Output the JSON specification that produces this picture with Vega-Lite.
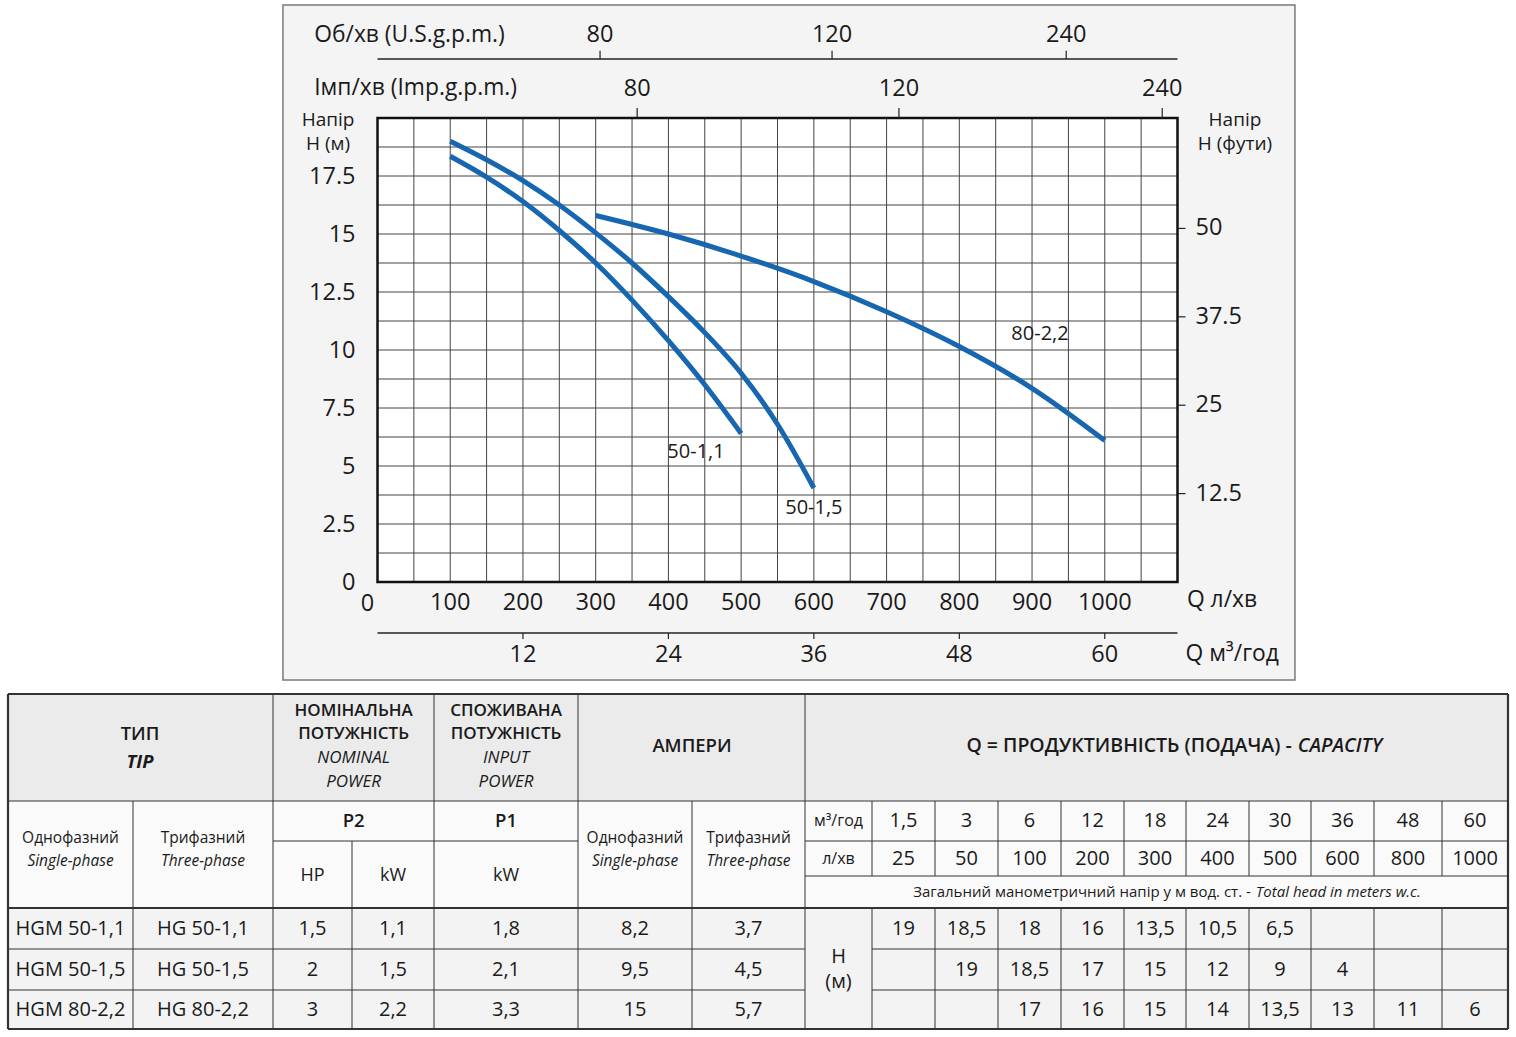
{
  "$schema": "https://vega.github.io/schema/vega-lite/v6.json",
  "width": 1516,
  "height": 1037,
  "padding": 0,
  "autosize": {"type": "none"},
  "background": "#ffffff",
  "config": {"view": {"stroke": null}, "text": {"font": "Open Sans", "color": "#1a1a1a"}},
  "datasets": {
    "curves": [
      {"model": "50-1,1", "q": 100, "h": 18.35}, {"model": "50-1,1", "q": 150, "h": 17.45}, {"model": "50-1,1", "q": 200, "h": 16.4}, {"model": "50-1,1", "q": 250, "h": 15.15}, {"model": "50-1,1", "q": 300, "h": 13.75}, {"model": "50-1,1", "q": 350, "h": 12.15}, {"model": "50-1,1", "q": 400, "h": 10.4}, {"model": "50-1,1", "q": 450, "h": 8.5}, {"model": "50-1,1", "q": 500, "h": 6.4},
      {"model": "50-1,5", "q": 100, "h": 19.0}, {"model": "50-1,5", "q": 150, "h": 18.2}, {"model": "50-1,5", "q": 200, "h": 17.3}, {"model": "50-1,5", "q": 250, "h": 16.25}, {"model": "50-1,5", "q": 300, "h": 15.05}, {"model": "50-1,5", "q": 350, "h": 13.75}, {"model": "50-1,5", "q": 400, "h": 12.3}, {"model": "50-1,5", "q": 450, "h": 10.75}, {"model": "50-1,5", "q": 500, "h": 9.0}, {"model": "50-1,5", "q": 550, "h": 6.8}, {"model": "50-1,5", "q": 600, "h": 4.05},
      {"model": "80-2,2", "q": 300, "h": 15.8}, {"model": "80-2,2", "q": 400, "h": 15.0}, {"model": "80-2,2", "q": 500, "h": 14.05}, {"model": "80-2,2", "q": 600, "h": 12.95}, {"model": "80-2,2", "q": 700, "h": 11.65}, {"model": "80-2,2", "q": 800, "h": 10.15}, {"model": "80-2,2", "q": 900, "h": 8.35}, {"model": "80-2,2", "q": 1000, "h": 6.1}
    ],
    "curveLabels": [
      {"q": 438, "h": 5.6, "label": "50-1,1"},
      {"q": 600, "h": 3.19, "label": "50-1,5"},
      {"q": 911, "h": 10.69, "label": "80-2,2"}
    ],
    "gridQ": [{"q": 50}, {"q": 100}, {"q": 150}, {"q": 200}, {"q": 250}, {"q": 300}, {"q": 350}, {"q": 400}, {"q": 450}, {"q": 500}, {"q": 550}, {"q": 600}, {"q": 650}, {"q": 700}, {"q": 750}, {"q": 800}, {"q": 850}, {"q": 900}, {"q": 950}, {"q": 1000}, {"q": 1050}],
    "gridH": [{"h": 1.25}, {"h": 2.5}, {"h": 3.75}, {"h": 5}, {"h": 6.25}, {"h": 7.5}, {"h": 8.75}, {"h": 10}, {"h": 11.25}, {"h": 12.5}, {"h": 13.75}, {"h": 15}, {"h": 16.25}, {"h": 17.5}, {"h": 18.75}],
    "yLabels": [{"h": 0, "label": "0"}, {"h": 2.5, "label": "2.5"}, {"h": 5, "label": "5"}, {"h": 7.5, "label": "7.5"}, {"h": 10, "label": "10"}, {"h": 12.5, "label": "12.5"}, {"h": 15, "label": "15"}, {"h": 17.5, "label": "17.5"}],
    "xLabels": [{"q": 100, "label": "100"}, {"q": 200, "label": "200"}, {"q": 300, "label": "300"}, {"q": 400, "label": "400"}, {"q": 500, "label": "500"}, {"q": 600, "label": "600"}, {"q": 700, "label": "700"}, {"q": 800, "label": "800"}, {"q": 900, "label": "900"}, {"q": 1000, "label": "1000"}],
    "feet": [{"h": 3.81, "label": "12.5"}, {"h": 7.62, "label": "25"}, {"h": 11.43, "label": "37.5"}, {"h": 15.24, "label": "50"}],
    "imp": [{"q": 357, "label": "80"}, {"q": 717, "label": "120"}, {"q": 1079, "label": "240"}],
    "usg": [{"q": 306, "label": "80"}, {"q": 625, "label": "120"}, {"q": 947, "label": "240"}],
    "m3": [{"q": 200, "label": "12"}, {"q": 400, "label": "24"}, {"q": 600, "label": "36"}, {"q": 800, "label": "48"}, {"q": 1000, "label": "60"}],
    "titlesL": [
      {"q": -87, "h": 23.58, "label": "Об/хв (U.S.g.p.m.)"},
      {"q": -87, "h": 21.3, "label": "Імп/хв (Imp.g.p.m.)"},
      {"q": 1113, "h": -0.78, "label": "Q л/хв"},
      {"q": 1111, "h": -3.1, "label": "Q м³/год"}
    ],
    "titlesC": [
      {"q": -68, "h": 19.4, "label": ["Напір", "Н (м)"]},
      {"q": 1179, "h": 19.4, "label": ["Напір", "Н (фути)"]}
    ],
    "tableBg": [
      {"c": 0, "c2": 18, "r": 0, "r2": 1, "zone": "head"},
      {"c": 0, "c2": 18, "r": 1, "r2": 4, "zone": "sub"},
      {"c": 0, "c2": 18, "r": 4, "r2": 7, "zone": "body"}
    ],
    "hlines": [
      {"r": 0, "c": 0, "c2": 18, "kind": "outer"},
      {"r": 1, "c": 0, "c2": 18, "kind": "inner"},
      {"r": 2, "c": 2, "c2": 5, "kind": "inner"},
      {"r": 2, "c": 7, "c2": 18, "kind": "inner"},
      {"r": 3, "c": 7, "c2": 18, "kind": "inner"},
      {"r": 4, "c": 0, "c2": 18, "kind": "outer"},
      {"r": 5, "c": 0, "c2": 7, "kind": "inner"},
      {"r": 5, "c": 8, "c2": 18, "kind": "inner"},
      {"r": 6, "c": 0, "c2": 7, "kind": "inner"},
      {"r": 6, "c": 8, "c2": 18, "kind": "inner"},
      {"r": 7, "c": 0, "c2": 18, "kind": "outer"}
    ],
    "vlines": [
      {"c": 0, "r": 0, "r2": 7, "kind": "outer"},
      {"c": 1, "r": 1, "r2": 7, "kind": "inner"},
      {"c": 2, "r": 0, "r2": 7, "kind": "inner"},
      {"c": 3, "r": 2, "r2": 7, "kind": "inner"},
      {"c": 4, "r": 0, "r2": 7, "kind": "inner"},
      {"c": 5, "r": 0, "r2": 7, "kind": "inner"},
      {"c": 6, "r": 1, "r2": 7, "kind": "inner"},
      {"c": 7, "r": 0, "r2": 7, "kind": "inner"},
      {"c": 8, "r": 1, "r2": 3, "kind": "inner"}, {"c": 8, "r": 4, "r2": 7, "kind": "inner"},
      {"c": 9, "r": 1, "r2": 3, "kind": "inner"}, {"c": 9, "r": 4, "r2": 7, "kind": "inner"},
      {"c": 10, "r": 1, "r2": 3, "kind": "inner"}, {"c": 10, "r": 4, "r2": 7, "kind": "inner"},
      {"c": 11, "r": 1, "r2": 3, "kind": "inner"}, {"c": 11, "r": 4, "r2": 7, "kind": "inner"},
      {"c": 12, "r": 1, "r2": 3, "kind": "inner"}, {"c": 12, "r": 4, "r2": 7, "kind": "inner"},
      {"c": 13, "r": 1, "r2": 3, "kind": "inner"}, {"c": 13, "r": 4, "r2": 7, "kind": "inner"},
      {"c": 14, "r": 1, "r2": 3, "kind": "inner"}, {"c": 14, "r": 4, "r2": 7, "kind": "inner"},
      {"c": 15, "r": 1, "r2": 3, "kind": "inner"}, {"c": 15, "r": 4, "r2": 7, "kind": "inner"},
      {"c": 16, "r": 1, "r2": 3, "kind": "inner"}, {"c": 16, "r": 4, "r2": 7, "kind": "inner"},
      {"c": 17, "r": 1, "r2": 3, "kind": "inner"}, {"c": 17, "r": 4, "r2": 7, "kind": "inner"},
      {"c": 18, "r": 0, "r2": 7, "kind": "outer"}
    ],
    "cells": [
      {"c": 1.05, "r": 0.374, "t": "ТИП", "g": "head"},
      {"c": 3.02, "r": 0.49, "t": ["НОМІНАЛЬНА", "ПОТУЖНІСТЬ"], "g": "headUa"},
      {"c": 4.5, "r": 0.49, "t": ["СПОЖИВАНА", "ПОТУЖНІСТЬ"], "g": "headUa"},
      {"c": 3.02, "r": 0.49, "t": ["NOMINAL", "POWER"], "g": "headEn"},
      {"c": 4.5, "r": 0.49, "t": ["INPUT", "POWER"], "g": "headEn"},
      {"c": 1.05, "r": 0.636, "t": "TIP", "g": "tip"},
      {"c": 6.0, "r": 0.49, "t": "АМПЕРИ", "g": "head"},
      {"c": 3.02, "r": 1.5, "t": "P2", "g": "head"},
      {"c": 4.5, "r": 1.5, "t": "P1", "g": "head"},
      {"c": 14.69, "r": 0.49, "t": "Q = ПРОДУКТИВНІСТЬ (ПОДАЧА) -", "g": "qUa"},
      {"c": 14.69, "r": 0.49, "t": "CAPACITY", "g": "qEn"},
      {"c": 0.5, "r": 2.26, "t": "Однофазний", "g": "subUa"},
      {"c": 1.5, "r": 2.26, "t": "Трифазний", "g": "subUa"},
      {"c": 5.5, "r": 2.26, "t": "Однофазний", "g": "subUa"},
      {"c": 6.5, "r": 2.26, "t": "Трифазний", "g": "subUa"},
      {"c": 0.5, "r": 2.26, "t": "Single-phase", "g": "subEn"},
      {"c": 1.5, "r": 2.26, "t": "Three-phase", "g": "subEn"},
      {"c": 5.5, "r": 2.26, "t": "Single-phase", "g": "subEn"},
      {"c": 6.5, "r": 2.26, "t": "Three-phase", "g": "subEn"},
      {"c": 2.5, "r": 3.0, "t": "HP", "g": "small"},
      {"c": 3.5, "r": 3.0, "t": "kW", "g": "small"},
      {"c": 4.5, "r": 3.0, "t": "kW", "g": "small"},
      {"c": 7.5, "r": 1.5, "t": "м³/год", "g": "unit"},
      {"c": 7.5, "r": 2.5, "t": "л/хв", "g": "unit"},
      {"c": 14.03, "r": 3.5, "t": "Загальний манометричний напір у м вод. ст. -", "g": "totUa"},
      {"c": 14.03, "r": 3.5, "t": "Total head in meters w.c.", "g": "totEn"},
      {"c": 7.5, "r": 5.5, "t": ["Н", "(м)"], "g": "hm"},
      {"c": 8.5, "r": 1.5, "t": "1,5", "g": "num"}, {"c": 9.5, "r": 1.5, "t": "3", "g": "num"}, {"c": 10.5, "r": 1.5, "t": "6", "g": "num"}, {"c": 11.5, "r": 1.5, "t": "12", "g": "num"}, {"c": 12.5, "r": 1.5, "t": "18", "g": "num"}, {"c": 13.5, "r": 1.5, "t": "24", "g": "num"}, {"c": 14.5, "r": 1.5, "t": "30", "g": "num"}, {"c": 15.5, "r": 1.5, "t": "36", "g": "num"}, {"c": 16.5, "r": 1.5, "t": "48", "g": "num"}, {"c": 17.5, "r": 1.5, "t": "60", "g": "num"},
      {"c": 8.5, "r": 2.5, "t": "25", "g": "num"}, {"c": 9.5, "r": 2.5, "t": "50", "g": "num"}, {"c": 10.5, "r": 2.5, "t": "100", "g": "num"}, {"c": 11.5, "r": 2.5, "t": "200", "g": "num"}, {"c": 12.5, "r": 2.5, "t": "300", "g": "num"}, {"c": 13.5, "r": 2.5, "t": "400", "g": "num"}, {"c": 14.5, "r": 2.5, "t": "500", "g": "num"}, {"c": 15.5, "r": 2.5, "t": "600", "g": "num"}, {"c": 16.5, "r": 2.5, "t": "800", "g": "num"}, {"c": 17.5, "r": 2.5, "t": "1000", "g": "num"},
      {"c": 0.5, "r": 4.5, "t": "HGM 50-1,1", "g": "num"}, {"c": 1.5, "r": 4.5, "t": "HG 50-1,1", "g": "num"}, {"c": 2.5, "r": 4.5, "t": "1,5", "g": "num"}, {"c": 3.5, "r": 4.5, "t": "1,1", "g": "num"}, {"c": 4.5, "r": 4.5, "t": "1,8", "g": "num"}, {"c": 5.5, "r": 4.5, "t": "8,2", "g": "num"}, {"c": 6.5, "r": 4.5, "t": "3,7", "g": "num"},
      {"c": 8.5, "r": 4.5, "t": "19", "g": "num"}, {"c": 9.5, "r": 4.5, "t": "18,5", "g": "num"}, {"c": 10.5, "r": 4.5, "t": "18", "g": "num"}, {"c": 11.5, "r": 4.5, "t": "16", "g": "num"}, {"c": 12.5, "r": 4.5, "t": "13,5", "g": "num"}, {"c": 13.5, "r": 4.5, "t": "10,5", "g": "num"}, {"c": 14.5, "r": 4.5, "t": "6,5", "g": "num"},
      {"c": 0.5, "r": 5.5, "t": "HGM 50-1,5", "g": "num"}, {"c": 1.5, "r": 5.5, "t": "HG 50-1,5", "g": "num"}, {"c": 2.5, "r": 5.5, "t": "2", "g": "num"}, {"c": 3.5, "r": 5.5, "t": "1,5", "g": "num"}, {"c": 4.5, "r": 5.5, "t": "2,1", "g": "num"}, {"c": 5.5, "r": 5.5, "t": "9,5", "g": "num"}, {"c": 6.5, "r": 5.5, "t": "4,5", "g": "num"},
      {"c": 9.5, "r": 5.5, "t": "19", "g": "num"}, {"c": 10.5, "r": 5.5, "t": "18,5", "g": "num"}, {"c": 11.5, "r": 5.5, "t": "17", "g": "num"}, {"c": 12.5, "r": 5.5, "t": "15", "g": "num"}, {"c": 13.5, "r": 5.5, "t": "12", "g": "num"}, {"c": 14.5, "r": 5.5, "t": "9", "g": "num"}, {"c": 15.5, "r": 5.5, "t": "4", "g": "num"},
      {"c": 0.5, "r": 6.5, "t": "HGM 80-2,2", "g": "num"}, {"c": 1.5, "r": 6.5, "t": "HG 80-2,2", "g": "num"}, {"c": 2.5, "r": 6.5, "t": "3", "g": "num"}, {"c": 3.5, "r": 6.5, "t": "2,2", "g": "num"}, {"c": 4.5, "r": 6.5, "t": "3,3", "g": "num"}, {"c": 5.5, "r": 6.5, "t": "15", "g": "num"}, {"c": 6.5, "r": 6.5, "t": "5,7", "g": "num"},
      {"c": 10.5, "r": 6.5, "t": "17", "g": "num"}, {"c": 11.5, "r": 6.5, "t": "16", "g": "num"}, {"c": 12.5, "r": 6.5, "t": "15", "g": "num"}, {"c": 13.5, "r": 6.5, "t": "14", "g": "num"}, {"c": 14.5, "r": 6.5, "t": "13,5", "g": "num"}, {"c": 15.5, "r": 6.5, "t": "13", "g": "num"}, {"c": 16.5, "r": 6.5, "t": "11", "g": "num"}, {"c": 17.5, "r": 6.5, "t": "6", "g": "num"}
    ]
  },
  "layer": [
    {
      "layer": [
        {"data": {"values": [{}]}, "mark": {"type": "rect", "fill": "#f4f4f4", "stroke": "#7a7a7a", "strokeWidth": 1.5},
         "encoding": {
           "x": {"datum": -130, "type": "quantitative", "scale": {"domain": [0, 1100], "range": [377.5, 1177.5], "nice": false, "zero": false}, "axis": null},
           "x2": {"datum": 1261.5},
           "y": {"datum": -4.22, "type": "quantitative", "scale": {"domain": [0, 20], "range": [582, 118], "nice": false, "zero": false}, "axis": null},
           "y2": {"datum": 24.87}}},
        {"data": {"values": [{}]}, "mark": {"type": "rect", "fill": "#ffffff"},
         "encoding": {"x": {"datum": 0, "type": "quantitative", "axis": null}, "x2": {"datum": 1100}, "y": {"datum": 0, "type": "quantitative", "axis": null}, "y2": {"datum": 20}}},
        {"data": {"name": "gridQ"}, "mark": {"type": "rule", "stroke": "#444444", "strokeWidth": 1},
         "encoding": {"x": {"field": "q", "type": "quantitative", "axis": null}, "y": {"datum": 0, "type": "quantitative", "axis": null}, "y2": {"datum": 20}}},
        {"data": {"name": "gridH"}, "mark": {"type": "rule", "stroke": "#444444", "strokeWidth": 1},
         "encoding": {"y": {"field": "h", "type": "quantitative", "axis": null}, "x": {"datum": 0, "type": "quantitative", "axis": null}, "x2": {"datum": 1100}}},
        {"data": {"values": [{}]}, "mark": {"type": "rect", "fillOpacity": 0, "stroke": "#111111", "strokeWidth": 2.5},
         "encoding": {"x": {"datum": 0, "type": "quantitative", "axis": null}, "x2": {"datum": 1100}, "y": {"datum": 0, "type": "quantitative", "axis": null}, "y2": {"datum": 20}}},
        {"data": {"name": "curves"}, "mark": {"type": "line", "color": "#1766b0", "strokeWidth": 5, "interpolate": "monotone"},
         "encoding": {"x": {"field": "q", "type": "quantitative", "axis": null}, "y": {"field": "h", "type": "quantitative", "axis": null}, "detail": {"field": "model", "type": "nominal"}}},
        {"data": {"name": "curveLabels"}, "mark": {"type": "text", "fontSize": 20, "baseline": "middle", "align": "center"},
         "encoding": {"x": {"field": "q", "type": "quantitative", "axis": null}, "y": {"field": "h", "type": "quantitative", "axis": null}, "text": {"field": "label", "type": "nominal"}}},
        {"data": {"name": "yLabels"}, "mark": {"type": "text", "fontSize": 23.5, "baseline": "middle", "align": "right", "dx": -22, "dy": 1},
         "encoding": {"x": {"datum": 0, "type": "quantitative", "axis": null}, "y": {"field": "h", "type": "quantitative", "axis": null}, "text": {"field": "label", "type": "nominal"}}},
        {"data": {"name": "xLabels"}, "mark": {"type": "text", "fontSize": 23.5, "baseline": "middle", "align": "center", "dy": 21},
         "encoding": {"x": {"field": "q", "type": "quantitative", "axis": null}, "y": {"datum": 0, "type": "quantitative", "axis": null}, "text": {"field": "label", "type": "nominal"}}},
        {"data": {"values": [{"label": "0"}]}, "mark": {"type": "text", "fontSize": 23.5, "baseline": "middle", "align": "center", "dx": -10, "dy": 22},
         "encoding": {"x": {"datum": 0, "type": "quantitative", "axis": null}, "y": {"datum": 0, "type": "quantitative", "axis": null}, "text": {"field": "label", "type": "nominal"}}},
        {"data": {"name": "feet"}, "mark": {"type": "rule", "stroke": "#222222", "strokeWidth": 1.2},
         "encoding": {"y": {"field": "h", "type": "quantitative", "axis": null}, "x": {"datum": 1100, "type": "quantitative", "axis": null}, "x2": {"datum": 1111}}},
        {"data": {"name": "feet"}, "mark": {"type": "text", "fontSize": 23.5, "baseline": "middle", "align": "left", "dx": 18},
         "encoding": {"y": {"field": "h", "type": "quantitative", "axis": null}, "x": {"datum": 1100, "type": "quantitative", "axis": null}, "text": {"field": "label", "type": "nominal"}}},
        {"data": {"name": "imp"}, "mark": {"type": "rule", "stroke": "#222222", "strokeWidth": 1.2},
         "encoding": {"x": {"field": "q", "type": "quantitative", "axis": null}, "y": {"datum": 20, "type": "quantitative", "axis": null}, "y2": {"datum": 20.43}}},
        {"data": {"name": "imp"}, "mark": {"type": "text", "fontSize": 23.5, "baseline": "middle", "align": "center"},
         "encoding": {"x": {"field": "q", "type": "quantitative", "axis": null}, "y": {"datum": 21.25, "type": "quantitative", "axis": null}, "text": {"field": "label", "type": "nominal"}}},
        {"data": {"values": [{}]}, "mark": {"type": "rule", "stroke": "#222222", "strokeWidth": 1.5},
         "encoding": {"x": {"datum": 0, "type": "quantitative", "axis": null}, "x2": {"datum": 1100}, "y": {"datum": 22.54, "type": "quantitative", "axis": null}}},
        {"data": {"name": "usg"}, "mark": {"type": "rule", "stroke": "#222222", "strokeWidth": 1.2},
         "encoding": {"x": {"field": "q", "type": "quantitative", "axis": null}, "y": {"datum": 22.54, "type": "quantitative", "axis": null}, "y2": {"datum": 22.9}}},
        {"data": {"name": "usg"}, "mark": {"type": "text", "fontSize": 23.5, "baseline": "middle", "align": "center"},
         "encoding": {"x": {"field": "q", "type": "quantitative", "axis": null}, "y": {"datum": 23.58, "type": "quantitative", "axis": null}, "text": {"field": "label", "type": "nominal"}}},
        {"data": {"values": [{}]}, "mark": {"type": "rule", "stroke": "#222222", "strokeWidth": 1.5},
         "encoding": {"x": {"datum": 0, "type": "quantitative", "axis": null}, "x2": {"datum": 1100}, "y": {"datum": -2.2, "type": "quantitative", "axis": null}}},
        {"data": {"name": "m3"}, "mark": {"type": "rule", "stroke": "#222222", "strokeWidth": 1.2},
         "encoding": {"x": {"field": "q", "type": "quantitative", "axis": null}, "y": {"datum": -2.2, "type": "quantitative", "axis": null}, "y2": {"datum": -2.46}}},
        {"data": {"name": "m3"}, "mark": {"type": "text", "fontSize": 23.5, "baseline": "middle", "align": "center"},
         "encoding": {"x": {"field": "q", "type": "quantitative", "axis": null}, "y": {"datum": -3.15, "type": "quantitative", "axis": null}, "text": {"field": "label", "type": "nominal"}}},
        {"data": {"name": "titlesL"}, "mark": {"type": "text", "fontSize": 22.8, "baseline": "middle", "align": "left"},
         "encoding": {"x": {"field": "q", "type": "quantitative", "axis": null}, "y": {"field": "h", "type": "quantitative", "axis": null}, "text": {"field": "label", "type": "nominal"}}},
        {"data": {"name": "titlesC"}, "mark": {"type": "text", "fontSize": 19, "baseline": "middle", "align": "center", "lineHeight": 24, "dy": -12},
         "encoding": {"x": {"field": "q", "type": "quantitative", "axis": null}, "y": {"field": "h", "type": "quantitative", "axis": null}, "text": {"field": "label", "type": "nominal"}}}
      ]
    },
    {
      "encoding": {
        "x": {"field": "c", "type": "quantitative", "scale": {"type": "linear", "domain": [0,1,2,3,4,5,6,7,8,9,10,11,12,13,14,15,16,17,18], "range": [8,133,273,352,434,578,692,805,872,935,998,1061,1124,1186,1249,1311,1374,1442,1508], "nice": false, "zero": false}, "axis": null},
        "y": {"field": "r", "type": "quantitative", "scale": {"type": "linear", "domain": [0,1,2,3,4,5,6,7], "range": [694,801,841,876,908,949,990,1029], "nice": false, "zero": false}, "axis": null}
      },
      "layer": [
        {"data": {"name": "tableBg"}, "mark": {"type": "rect"},
         "encoding": {"x2": {"field": "c2"}, "y2": {"field": "r2"},
           "color": {"field": "zone", "type": "nominal", "scale": {"domain": ["head", "sub", "body"], "range": ["#ebebeb", "#fafafa", "#f3f3f3"]}, "legend": null}}},
        {"data": {"name": "hlines"}, "mark": {"type": "rule", "stroke": "#333333"},
         "encoding": {"x2": {"field": "c2"},
           "strokeWidth": {"field": "kind", "type": "nominal", "scale": {"domain": ["outer", "inner"], "range": [2.2, 1]}, "legend": null}}},
        {"data": {"name": "vlines"}, "mark": {"type": "rule", "stroke": "#333333"},
         "encoding": {"y2": {"field": "r2"},
           "strokeWidth": {"field": "kind", "type": "nominal", "scale": {"domain": ["outer", "inner"], "range": [2.2, 1]}, "legend": null}}},
        {"data": {"name": "cells"}, "transform": [{"filter": "datum.g === 'headUa'"}],
         "mark": {"type": "text", "fontSize": 17, "fontWeight": 600, "baseline": "line-bottom", "align": "center", "lineHeight": 23.5, "dy": -23.5},
         "encoding": {"text": {"field": "t", "type": "nominal"}}},
        {"data": {"name": "cells"}, "transform": [{"filter": "datum.g === 'headEn'"}],
         "mark": {"type": "text", "fontSize": 17, "fontStyle": "italic", "baseline": "line-top", "align": "center", "lineHeight": 23.5},
         "encoding": {"text": {"field": "t", "type": "nominal"}}},
        {"data": {"name": "cells"}, "transform": [{"filter": "datum.g === 'tip'"}],
         "mark": {"type": "text", "fontSize": 18.5, "fontWeight": "bold", "fontStyle": "italic", "baseline": "middle", "align": "center"},
         "encoding": {"text": {"field": "t", "type": "nominal"}}},
        {"data": {"name": "cells"}, "transform": [{"filter": "datum.g === 'head'"}],
         "mark": {"type": "text", "fontSize": 18.5, "fontWeight": 600, "baseline": "middle", "align": "center"},
         "encoding": {"text": {"field": "t", "type": "nominal"}}},
        {"data": {"name": "cells"}, "transform": [{"filter": "datum.g === 'qUa'"}],
         "mark": {"type": "text", "fontSize": 19.5, "fontWeight": 600, "baseline": "middle", "align": "right"},
         "encoding": {"text": {"field": "t", "type": "nominal"}}},
        {"data": {"name": "cells"}, "transform": [{"filter": "datum.g === 'qEn'"}],
         "mark": {"type": "text", "fontSize": 19.5, "fontWeight": 600, "fontStyle": "italic", "baseline": "middle", "align": "left", "dx": 6},
         "encoding": {"text": {"field": "t", "type": "nominal"}}},
        {"data": {"name": "cells"}, "transform": [{"filter": "datum.g === 'subUa'"}],
         "mark": {"type": "text", "fontSize": 15.5, "baseline": "line-bottom", "align": "center", "lineHeight": 23.5},
         "encoding": {"text": {"field": "t", "type": "nominal"}}},
        {"data": {"name": "cells"}, "transform": [{"filter": "datum.g === 'subEn'"}],
         "mark": {"type": "text", "fontSize": 15.5, "fontStyle": "italic", "baseline": "line-top", "align": "center", "lineHeight": 23.5},
         "encoding": {"text": {"field": "t", "type": "nominal"}}},
        {"data": {"name": "cells"}, "transform": [{"filter": "datum.g === 'small'"}],
         "mark": {"type": "text", "fontSize": 18, "baseline": "middle", "align": "center"},
         "encoding": {"text": {"field": "t", "type": "nominal"}}},
        {"data": {"name": "cells"}, "transform": [{"filter": "datum.g === 'unit'"}],
         "mark": {"type": "text", "fontSize": 16, "baseline": "middle", "align": "center"},
         "encoding": {"text": {"field": "t", "type": "nominal"}}},
        {"data": {"name": "cells"}, "transform": [{"filter": "datum.g === 'totUa'"}],
         "mark": {"type": "text", "fontSize": 15, "baseline": "middle", "align": "right"},
         "encoding": {"text": {"field": "t", "type": "nominal"}}},
        {"data": {"name": "cells"}, "transform": [{"filter": "datum.g === 'totEn'"}],
         "mark": {"type": "text", "fontSize": 15, "fontStyle": "italic", "baseline": "middle", "align": "left", "dx": 5},
         "encoding": {"text": {"field": "t", "type": "nominal"}}},
        {"data": {"name": "cells"}, "transform": [{"filter": "datum.g === 'hm'"}],
         "mark": {"type": "text", "fontSize": 20, "baseline": "middle", "align": "center", "lineHeight": 25, "dy": -12.5},
         "encoding": {"text": {"field": "t", "type": "nominal"}}},
        {"data": {"name": "cells"}, "transform": [{"filter": "datum.g === 'num'"}],
         "mark": {"type": "text", "fontSize": 20, "baseline": "middle", "align": "center"},
         "encoding": {"text": {"field": "t", "type": "nominal"}}}
      ]
    }
  ],
  "resolve": {"scale": {"x": "independent", "y": "independent"}}
}
